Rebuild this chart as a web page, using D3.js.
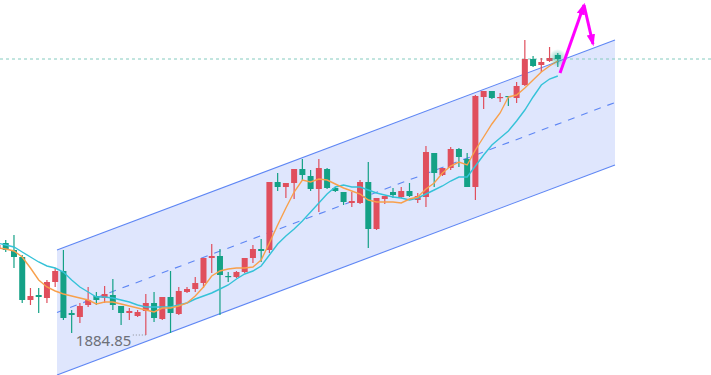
<!DOCTYPE html>
<html>
<head>
<meta charset="utf-8">
<script src="https://cdn.jsdelivr.net/npm/d3@7/dist/d3.min.js"></script>
<style>
  html, body { margin: 0; padding: 0; background: #fff; overflow: hidden; }
  svg { display: block; }
</style>
</head>
<body>
<div id="chart"></div>
<script>
// candle values (index 0 is cut by the left edge)
const opens  = [1928.35,1930.85,1927.35,1923.85,1902.35,1904.85,1903.35,1911.35,1916.85,1895.85,1893.85,1899.85,1904.35,1903.35,1904.85,1899.35,1895.85,1894.35,1896.85,1900.85,1892.85,1903.85,1895.35,1906.35,1907.85,1910.85,1923.35,1924.35,1914.35,1913.85,1916.35,1923.35,1927.85,1927.35,1961.35,1958.85,1960.85,1967.85,1964.35,1957.85,1967.85,1958.35,1956.35,1950.85,1950.85,1961.35,1937.85,1952.85,1956.35,1953.85,1956.85,1952.35,1953.85,1975.85,1964.85,1968.35,1977.85,1972.85,1958.85,2003.85,2006.85,2003.35,2004.35,2003.35,2009.85,2022.85,2019.85,2021.85,2024.85];
const highs  = [1930.85,1932.35,1934.85,1924.85,1908.35,1908.35,1912.35,1918.35,1927.35,1897.35,1900.85,1908.85,1906.35,1909.35,1912.85,1899.35,1898.35,1897.35,1905.35,1906.35,1903.85,1916.85,1908.85,1908.85,1913.85,1923.35,1930.35,1927.85,1916.35,1916.85,1923.35,1929.85,1932.85,1961.35,1965.85,1960.85,1967.85,1972.85,1967.35,1972.85,1968.35,1958.85,1956.35,1956.35,1962.35,1971.35,1953.35,1954.35,1958.35,1958.85,1960.85,1955.85,1979.35,1975.85,1968.35,1978.85,1978.35,1975.85,2004.85,2006.85,2006.85,2005.85,2004.35,2011.35,2032.35,2024.35,2023.35,2028.85,2025.85];
const lows   = [1927.35,1926.35,1918.35,1900.85,1899.85,1895.85,1900.85,1908.85,1892.35,1885.85,1890.85,1898.85,1899.85,1900.85,1897.35,1889.85,1892.35,1893.85,1884.85,1891.35,1892.35,1885.85,1894.85,1905.85,1906.35,1908.35,1915.85,1894.85,1911.35,1913.35,1915.85,1920.85,1921.35,1925.85,1956.85,1953.35,1952.85,1962.35,1956.85,1946.35,1957.85,1956.35,1949.85,1948.85,1950.35,1928.35,1937.35,1950.35,1953.35,1953.35,1953.85,1950.85,1948.85,1958.85,1964.35,1967.35,1968.85,1958.85,1952.35,1997.85,2002.85,2001.35,1999.35,2000.85,2009.35,2018.85,2016.35,2021.35,2018.85];
const closes = [1929.85,1927.35,1923.85,1902.35,1904.35,1903.85,1911.35,1916.85,1893.35,1894.85,1899.35,1902.35,1902.35,1905.35,1899.85,1895.85,1896.85,1896.35,1900.85,1893.35,1903.85,1895.85,1906.85,1907.85,1910.85,1923.35,1924.35,1914.85,1913.85,1916.35,1923.35,1927.85,1926.85,1961.35,1958.85,1960.85,1967.85,1964.85,1957.85,1968.35,1958.35,1956.85,1951.35,1951.85,1961.35,1937.85,1953.35,1954.35,1954.85,1956.85,1954.35,1954.35,1976.35,1965.85,1968.35,1977.85,1973.85,1958.85,2004.35,2006.85,2003.35,2003.85,2003.85,2009.35,2022.85,2019.35,2021.35,2023.35,2022.85];

// moving averages as drawn
const maFast = [1928.35,1927.85,1926.85,1923.85,1918.35,1912.35,1908.85,1906.85,1905.35,1904.35,1903.35,1902.35,1900.35,1901.35,1901.35,1900.35,1899.35,1898.35,1897.35,1896.35,1898.35,1898.35,1899.35,1900.85,1904.35,1908.85,1914.35,1916.85,1917.85,1918.35,1918.35,1918.85,1922.35,1930.85,1939.85,1948.35,1956.35,1962.35,1961.35,1962.85,1962.35,1960.35,1958.35,1956.85,1955.35,1952.35,1951.35,1951.35,1951.35,1950.85,1952.85,1953.85,1957.85,1960.85,1965.85,1969.35,1971.35,1969.85,1977.35,1983.85,1990.35,1995.85,2003.85,2004.85,2008.35,2012.35,2016.35,2019.35,2021.85];
const maSlow = [1930.85,1929.85,1928.85,1926.35,1923.85,1921.35,1919.35,1918.35,1916.35,1912.35,1908.85,1906.35,1903.85,1903.85,1903.35,1902.35,1901.35,1899.85,1898.85,1898.85,1898.85,1898.85,1899.85,1900.85,1902.85,1904.35,1905.85,1907.85,1909.85,1912.85,1915.35,1916.85,1919.35,1924.85,1930.35,1934.35,1937.85,1941.85,1946.35,1950.85,1955.35,1958.85,1959.85,1958.85,1958.85,1957.35,1955.85,1954.85,1953.85,1953.35,1952.35,1953.35,1955.35,1957.35,1959.35,1961.85,1963.85,1963.85,1969.35,1974.85,1979.85,1983.35,1986.85,1991.85,1997.35,2003.85,2009.85,2012.85,2014.35];

// channel drawn over the candles: [start index, end index], prices at both ends
const channelIdx = [7.22, 74.94];
const channelTop = [1927.35, 2032.35];
const channelBottom = [1864.85, 1969.85];

// marked low and the arrow sketch (index, price)
const lowLabel = '1884.85';
const arrowPts = [[68.27, 2015.85], [71.18, 2049.85], [72.27, 2030.35]];

document.addEventListener('DOMContentLoaded', () => {
    const width = 711, height = 375;
    const UP = '#e04f5d', DOWN = '#14a186';

    const svg = d3.select('#chart').append('svg')
        .attr('width', width)
        .attr('height', height);

    const x = d3.scaleLinear().domain([0, opens.length - 1]).range([-2.5, 557.8]);
    const y = d3.scaleLinear().domain([1884.85, 2022.85]).range([335, 59]);

    const defs = svg.append('defs');
    const glow = defs.append('radialGradient').attr('id', 'glow');
    glow.append('stop').attr('offset', '0%').attr('stop-color', DOWN).attr('stop-opacity', 0.55);
    glow.append('stop').attr('offset', '100%').attr('stop-color', DOWN).attr('stop-opacity', 0);
    defs.append('marker')
        .attr('id', 'head')
        .attr('viewBox', '0 0 10 10')
        .attr('refX', 8).attr('refY', 5)
        .attr('markerWidth', 4).attr('markerHeight', 4)
        .attr('markerUnits', 'strokeWidth')
        .attr('orient', 'auto')
        .append('path')
        .attr('d', 'M0,1.5 L10,5 L0,8.5 Z')
        .attr('fill', '#ff00ff');

    // --- channel
    const cx = channelIdx.map(x);
    const top = channelTop.map(y);
    const bot = channelBottom.map(y);
    svg.append('path')
        .attr('d', `M${cx[0]},${top[0]}L${cx[1]},${top[1]}L${cx[1]},${bot[1]}L${cx[0]},${bot[0]}Z`)
        .attr('fill', '#dfe6fd');
    const chLine = (a, b, dash) => svg.append('line')
        .attr('x1', cx[0]).attr('y1', a)
        .attr('x2', cx[1]).attr('y2', b)
        .attr('stroke', '#5e86f4')
        .attr('stroke-width', 1.1)
        .attr('stroke-dasharray', dash);
    chLine(top[0], top[1], null);
    chLine(bot[0], bot[1], null);
    chLine((top[0] + bot[0]) / 2, (top[1] + bot[1]) / 2, '7,7');

    // --- current price line
    const last = closes.length - 1;
    svg.append('line')
        .attr('x1', 0).attr('x2', width)
        .attr('y1', y(closes[last])).attr('y2', y(closes[last]))
        .attr('stroke', '#84cbbf')
        .attr('stroke-dasharray', '3,3');

    // --- candles
    const candles = svg.append('g').selectAll('g')
        .data(opens.map((o, i) => ({ i, o, h: highs[i], l: lows[i], c: closes[i] })))
        .join('g')
        .attr('fill', d => d.c >= d.o ? UP : DOWN)
        .attr('stroke', d => d.c >= d.o ? UP : DOWN);
    candles.append('line')
        .attr('x1', d => x(d.i)).attr('x2', d => x(d.i))
        .attr('y1', d => y(d.h)).attr('y2', d => y(d.l))
        .attr('stroke-width', 1.2);
    candles.append('rect')
        .attr('x', d => x(d.i) - 3)
        .attr('width', 6)
        .attr('y', d => y(Math.max(d.o, d.c)))
        .attr('height', d => Math.max(1.2, Math.abs(y(d.o) - y(d.c))))
        .attr('stroke', 'none');

    // --- moving averages
    const line = d3.line().x((d, i) => x(i)).y(d => y(d));
    svg.append('path').attr('d', line(maSlow))
        .attr('fill', 'none').attr('stroke', '#35c2d8').attr('stroke-width', 1.4);
    svg.append('path').attr('d', line(maFast))
        .attr('fill', 'none').attr('stroke', '#f8a04c').attr('stroke-width', 1.4);

    // glow on the last candle
    svg.append('circle')
        .attr('cx', x(last)).attr('cy', y(closes[last]) - 1)
        .attr('r', 9)
        .attr('fill', 'url(#glow)');

    // --- low label
    const lowIdx = lows.indexOf(d3.min(lows));
    const ly = y(lows[lowIdx]);
    svg.append('text')
        .attr('x', x(lowIdx) - 70)
        .attr('y', ly + 11)
        .attr('font-family', 'Noto Sans, sans-serif')
        .attr('font-size', 15)
        .attr('fill', '#6d7078')
        .text(lowLabel);
    svg.append('line')
        .attr('x1', x(lowIdx) - 13).attr('x2', x(lowIdx))
        .attr('y1', ly).attr('y2', ly)
        .attr('stroke', '#8a8d94')
        .attr('stroke-dasharray', '1,2');

    // --- arrow
    for (let k = 0; k < arrowPts.length - 1; k++) {
        svg.append('line')
            .attr('x1', x(arrowPts[k][0])).attr('y1', y(arrowPts[k][1]))
            .attr('x2', x(arrowPts[k + 1][0])).attr('y2', y(arrowPts[k + 1][1]))
            .attr('stroke', '#ff00ff')
            .attr('stroke-width', 3)
            .attr('marker-end', 'url(#head)');
    }
});
</script>
</body>
</html>
